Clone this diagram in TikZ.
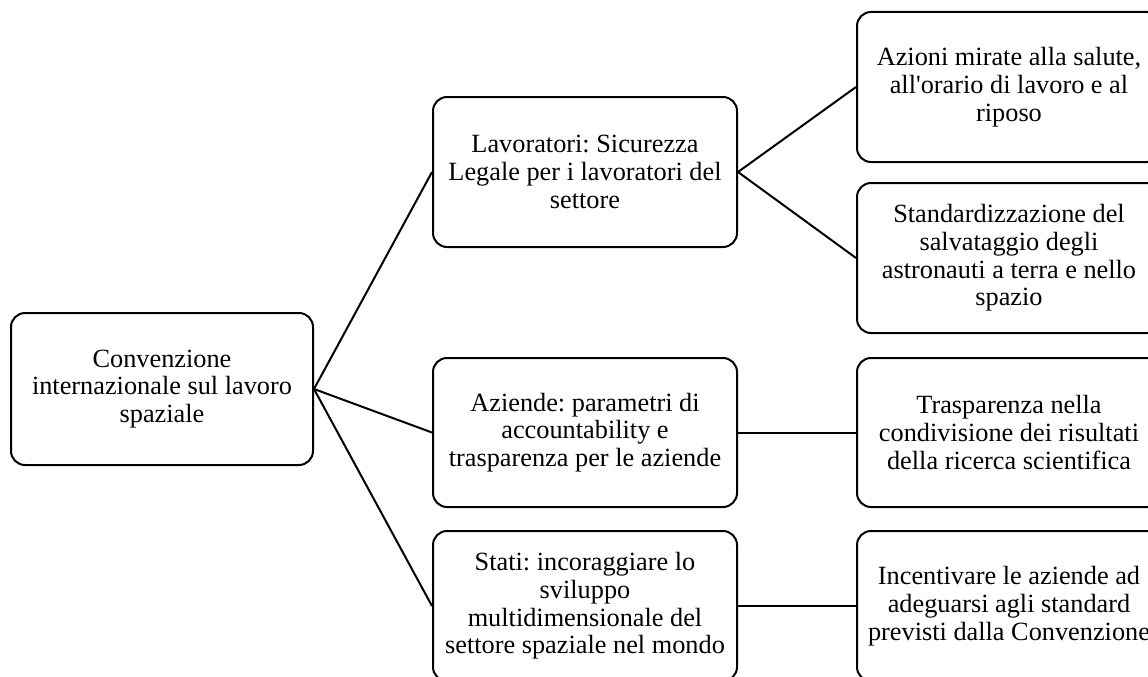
\documentclass[tikz,border=0pt]{standalone}
\usepackage{fontspec}
\setmainfont{Liberation Serif}[Ligatures=TeXOff]
\begin{document}
\begin{tikzpicture}[x=1pt,y=-1pt,
  box/.style={draw=black, line width=2pt, rounded corners=14pt, align=center,
    font=\fontsize{26.3}{27.7}\selectfont\frenchspacing, inner sep=0pt},
  link/.style={line width=2pt}]
\useasboundingbox (0,0) rectangle (1148,677);
\node[box, minimum width=302pt, minimum height=152pt] (root) at (162,389)
  {Convenzione\\internazionale sul lavoro\\spaziale};
\node[box, minimum width=304pt, minimum height=150pt] (m1) at (585,172)
  {Lavoratori: Sicurezza\\Legale per i lavoratori del\\settore};
\node[box, minimum width=304pt, minimum height=149pt] (m2) at (585,432.5)
  {Aziende: parametri di\\accountability e\\trasparenza per le aziende};
\node[box, minimum width=304pt, minimum height=150pt] (m3) at (585,606)
  {Stati: incoraggiare lo\\sviluppo\\multidimensionale del\\settore spaziale nel mondo};
\node[box, minimum width=304pt, minimum height=150pt] (r1) at (1009,87)
  {Azioni mirate alla salute,\\all'orario di lavoro e al\\riposo};
\node[box, minimum width=304pt, minimum height=150pt] (r2) at (1009,258)
  {Standardizzazione del\\salvataggio degli\\astronauti a terra e nello\\spazio};
\node[box, minimum width=304pt, minimum height=149pt] (r3) at (1009,432.5)
  {Trasparenza nella\\condivisione dei risultati\\della ricerca scientifica};
\node[box, minimum width=304pt, minimum height=150pt] (r4) at (1009,606)
  {Incentivare le aziende ad\\adeguarsi agli standard\\previsti dalla Convenzione};
\draw[link] (root.east) -- (m1.west);
\draw[link] (root.east) -- (m2.west);
\draw[link] (root.east) -- (m3.west);
\draw[link] (m1.east) -- (r1.west);
\draw[link] (m1.east) -- (r2.west);
\draw[link] (m2.east) -- (r3.west);
\draw[link] (m3.east) -- (r4.west);
\end{tikzpicture}
\end{document}
